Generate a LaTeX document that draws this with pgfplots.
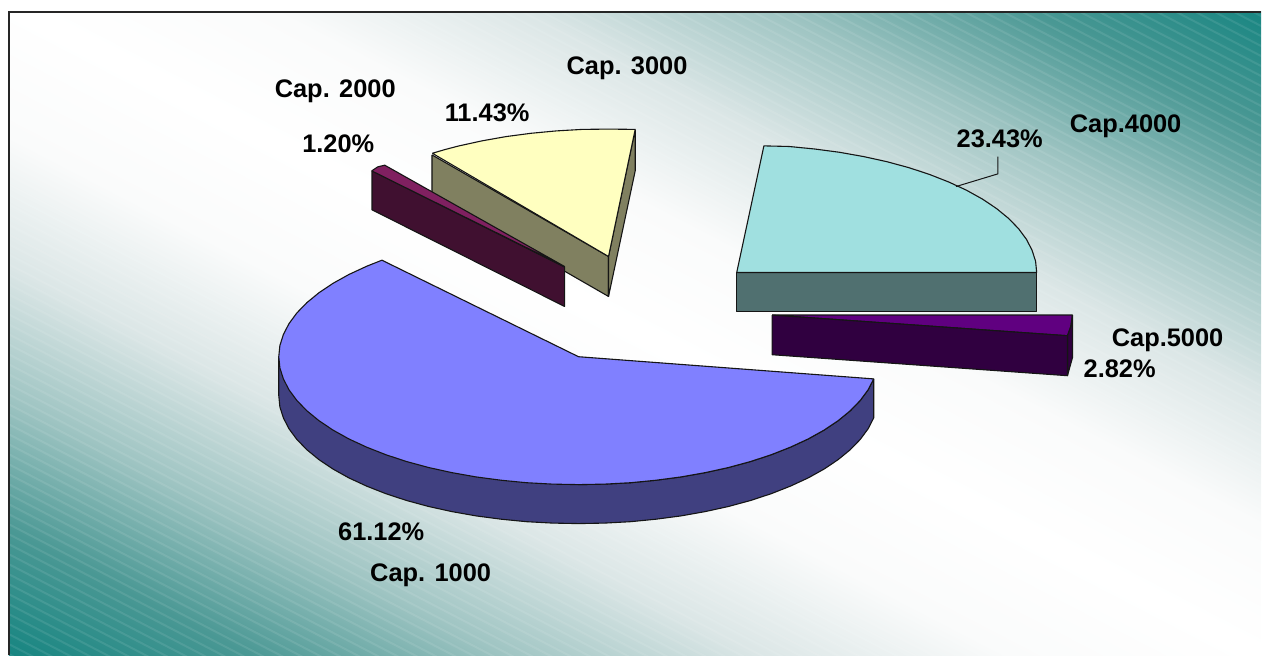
\documentclass[border=0pt]{standalone}
\usepackage{pgfplots}
\pgfplotsset{compat=1.18}
\usepackage{fontspec}
\setmainfont{Liberation Sans}
\definecolor{topBlue}{HTML}{8080FF}
\definecolor{sideBlue}{HTML}{404080}
\definecolor{topCyan}{HTML}{A0E0E0}
\definecolor{sideCyan}{HTML}{507070}
\definecolor{topYellow}{HTML}{FFFFC0}
\definecolor{sideYellow}{HTML}{808060}
\definecolor{topMag}{HTML}{802060}
\definecolor{sideMag}{HTML}{401030}
\definecolor{topPur}{HTML}{600080}
\definecolor{sidePur}{HTML}{300040}
\definecolor{edge}{HTML}{151515}
\definecolor{bgA}{HTML}{148480}
\definecolor{bgB}{HTML}{4A9894}
\definecolor{bgC}{HTML}{9EC4C2}
\definecolor{bgD}{HTML}{DBE6E6}
\definecolor{bgF}{HTML}{FAFBFB}
\definecolor{bgE}{HTML}{FFFFFF}
\pgfdeclareverticalshading{bgshade}{100bp}{
 color(0bp)=(bgA);
 color(10bp)=(bgB);
 color(20bp)=(bgC);
 color(30bp)=(bgD);
 color(40bp)=(bgF);
 color(50bp)=(bgE);
 color(60bp)=(bgF);
 color(70bp)=(bgD);
 color(80bp)=(bgC);
 color(90bp)=(bgB);
 color(100bp)=(bgA)}
\tikzset{lab/.style={anchor=base, inner sep=0pt, font=\fontsize{12.7}{15}\selectfont\bfseries, text=black}}
\begin{document}
\begin{tikzpicture}
\begin{axis}[
  scale only axis, width=631pt, height=328pt,
  xmin=0, xmax=1262, ymin=0, ymax=656, y dir=reverse,
  hide axis, clip=false,
  every axis plot/.append style={line width=0.55pt, line join=round, mark=none, draw=edge}
]
\fill[white] (axis cs:0,0) rectangle (axis cs:1262,656);
\begin{scope}
\clip (axis cs:9,12) rectangle (axis cs:1262,656);
\begin{pgfinterruptboundingbox}
\node[inner sep=0pt, rotate=-27.46, xscale=8, yscale=5.8, transform shape] at (axis cs:631,328) {\pgfuseshading{bgshade}};
\end{pgfinterruptboundingbox}
\pgfplotsinvokeforeach{-660,-650,...,660}{
  \draw[white, opacity=0.09, line width=1pt] (axis cs:0,#1) -- (axis cs:1262,#1+656);
}
\end{scope}
\draw[color=black!85, line width=1pt] (axis cs:9,656) -- (axis cs:9,12) -- (axis cs:1262,12);

% Cap. 3000
\addplot[fill=sideYellow] coordinates {(432.3,155) (609,256.7) (609,296.7) (432.3,195) (432.3,155)};
\addplot[fill=sideYellow] coordinates {(635.7,129.7) (635.7,171) (609,296.7) (609,256.7) (635.7,129.7)};
\addplot[fill=topYellow] coordinates {(432.7,153.4) (445.6,149.6) (459,146.1) (482.2,141) (506.4,136.7) (531.4,133.4) (556.9,131) (582.9,129.5) (609,129.2) (635.7,129.5) (609,256.7) (432.7,153.4)};

% Cap. 2000
\addplot[fill=sideMag] coordinates {(372.3,171) (565,267.3) (565,306.7) (372.3,210) (372.3,171)};
\addplot[fill=topMag] coordinates {(372,171) (378,167) (385,165.3) (565,266.7) (372,171)};

% Cap. 1000
\addplot[fill=sideBlue] coordinates {(874.4,379.2) (868.8,390.1) (860.9,400.8) (850.9,411.1) (838.8,421.0) (824.8,430.4) (808.8,439.3) (791.1,447.5) (771.8,455.1) (751.1,461.9) (729.0,467.9) (705.8,473.0) (681.6,477.3) (656.6,480.6) (631.1,483.1) (605.2,484.5) (579,485) (279,357)
 (279,396) (280.1,407.2) (283.6,418.2) (289.2,429.1) (297.1,439.8) (307.1,450.1) (319.2,460.0) (333.2,469.4) (349.2,478.3) (366.9,486.5) (386.2,494.1) (406.9,500.9) (429.0,506.9) (452.2,512.0) (476.4,516.3) (501.4,519.6) (526.9,522.1) (552.8,523.5) (579,524) (605.2,523.5) (631.1,522.1) (656.6,519.6) (681.6,516.3) (705.8,512.0) (729.0,506.9) (751.1,500.9) (771.8,494.1) (791.1,486.5) (808.8,478.3) (824.8,469.4) (838.8,460.0) (850.9,450.1) (860.9,439.8) (868.8,429.1) (874.4,418.2) (874.4,379.2)};
\addplot[fill=topBlue] coordinates {(579,357) (874.4,379.2) (868.8,390.1) (860.9,400.8) (850.9,411.1) (838.8,421.0) (824.8,430.4) (808.8,439.3) (791.1,447.5) (771.8,455.1) (751.1,461.9) (729.0,467.9) (705.8,473.0) (681.6,477.3) (656.6,480.6) (631.1,483.1) (605.2,484.5) (579,485) (552.8,484.5) (526.9,483.1) (501.4,480.6) (476.4,477.3) (452.2,473.0) (429.0,467.9) (406.9,461.9) (386.2,455.1) (366.9,447.5) (349.2,439.3) (333.2,430.4) (319.2,421.0) (307.1,411.1) (297.1,400.8) (289.2,390.1) (283.6,379.2) (280.1,368.2) (279,357) (280.1,345.8) (283.6,334.8) (289.2,323.9) (297.1,313.2) (307.1,302.9) (319.2,293.0) (333.2,283.6) (349.2,274.7) (366.9,266.5) (382.2,260.4) (579,357)};

% Cap.4000
\addplot[fill=sideCyan] coordinates {(737.3,272.7) (1037.5,272.7) (1037.5,312) (737.3,312) (737.3,272.7)};
\addplot[fill=topCyan] coordinates {(737.3,272.7) (764.5,146) (789.6,146.6) (815.1,149.1) (840.1,152.4) (864.3,156.7) (887.5,161.8) (909.6,167.8) (930.3,174.6) (949.6,182.2) (967.3,190.4) (983.3,199.3) (997.3,208.7) (1009.4,218.6) (1019.4,228.9) (1027.3,239.6) (1032.9,250.5) (1036.4,261.5) (1037.5,272.7) (737.3,272.7)};
\addplot[line width=0.5pt] coordinates {(956.7,186.7) (998.7,174) (998.7,156.7)};

% Cap.5000
\addplot[fill=topPur] coordinates {(772.7,315.3) (1073.3,315.3) (1071.7,326.7) (1068.3,336) (772.7,315.3)};
\addplot[fill=sidePur] coordinates {(1073.3,315.3) (1073.3,358) (1068.3,376) (1068.3,336) (1071.7,326.7) (1073.3,315.3)};
\addplot[fill=sidePur] coordinates {(772.7,315.3) (1068.3,336) (1068.3,376) (772.7,355) (772.7,315.3)};

\node[lab] at (axis cs:627.5,75) {Cap. 3000};
\node[lab] at (axis cs:335.5,98) {Cap. 2000};
\node[lab] at (axis cs:487.5,121.5) {11.43\%};
\node[lab] at (axis cs:338.5,153) {1.20\%};
\node[lab] at (axis cs:1000.5,148) {23.43\%};
\node[lab] at (axis cs:1126.5,133) {Cap.4000};
\node[lab] at (axis cs:1168.5,347) {Cap.5000};
\node[lab] at (axis cs:1120.5,377.5) {2.82\%};
\node[lab] at (axis cs:381.5,541) {61.12\%};
\node[lab] at (axis cs:431,582) {Cap. 1000};
\end{axis}
\end{tikzpicture}
\end{document}
